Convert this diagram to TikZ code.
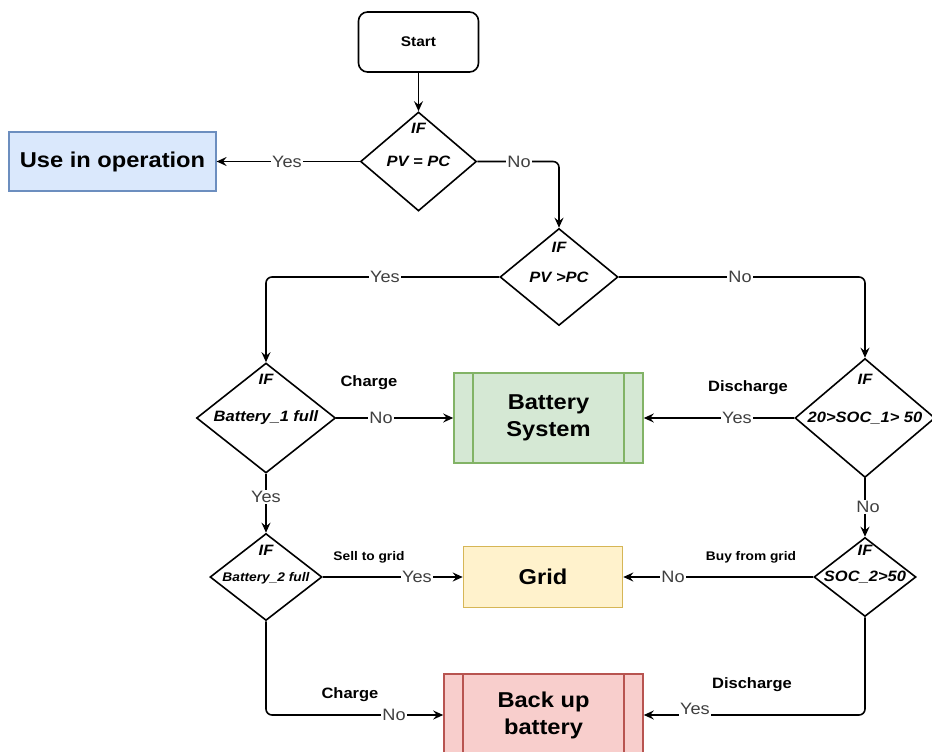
\documentclass[tikz,border=0pt]{standalone}
\usepackage{fontspec}
\setmainfont[FakeStretch=1.1]{Liberation Sans}
\usetikzlibrary{shapes.geometric,arrows.meta}
\definecolor{labelgray}{HTML}{404040}
\definecolor{bluefill}{HTML}{DAE8FC}\definecolor{blueline}{HTML}{6C8EBF}
\definecolor{greenfill}{HTML}{D5E8D4}\definecolor{greenline}{HTML}{82B366}
\definecolor{yellowfill}{HTML}{FFF2CC}\definecolor{yellowline}{HTML}{D6B656}
\definecolor{redfill}{HTML}{F8CECC}\definecolor{redline}{HTML}{B85450}
\tikzset{
  dia/.style={draw, diamond, line width=1.6pt, inner sep=0pt},
  arr/.style={-{Stealth[length=10pt,width=9pt,inset=3.5pt]}, line width=1.6pt, rounded corners=6pt},
  lbl/.style={fill=white, inner sep=1pt, text=labelgray, font=\fontsize{16.5}{18}\selectfont},
  note/.style={font=\bfseries\fontsize{15}{18}\selectfont},
  smallnote/.style={font=\bfseries\fontsize{12.5}{15}\selectfont},
  dtext/.style={font=\bfseries\itshape\fontsize{15}{17}\selectfont},
  dsmall/.style={font=\bfseries\itshape\fontsize{12.5}{15}\selectfont},
  bigtext/.style={font=\bfseries\fontsize{21.5}{27}\selectfont, align=center},
  procbox/.style={draw, line width=1.6pt, inner sep=0pt,
    path picture={
      \draw[line width=1.6pt, #1] ([xshift=19pt]path picture bounding box.north west) -- ([xshift=19pt]path picture bounding box.south west);
      \draw[line width=1.6pt, #1] ([xshift=-19pt]path picture bounding box.north east) -- ([xshift=-19pt]path picture bounding box.south east);
    }},
}
\begin{document}
\begin{tikzpicture}[x=1pt, y=-1pt]
\useasboundingbox (0,0) rectangle (932,752);
\clip (0,0) rectangle (932,752);

% Start
\node[draw, line width=1.6pt, rounded corners=9pt, minimum width=120pt, minimum height=60pt,
      font=\bfseries\fontsize{14}{16}\selectfont] (start) at (418.5,42) {Start};

% Decisions
\node[dia, minimum width=116pt, minimum height=99pt] (d1) at (418.5,161.5) {};
\node[dtext] (d1a) at (418.5,128) {IF};
\node[dtext] (d1b) at (418.5,161.5) {PV = PC};

\node[dia, minimum width=118pt, minimum height=97pt] (d2) at (559,277) {};
\node[dtext] (d2a) at (559,247) {IF};
\node[dtext] (d2b) at (559,277) {PV >PC};

\node[dia, minimum width=139pt, minimum height=110pt] (d3) at (266,418) {};
\node[dtext] (d3a) at (266,379) {IF};
\node[dtext] (d3b) at (266,418) {Battery\_1 full};

\node[dia, minimum width=140pt, minimum height=119pt] (d4) at (865,418) {};
\node[dtext] (d4a) at (865,379) {IF};
\node[dtext] (d4b) at (865,418) {20>SOC\_1> 50};

\node[dia, minimum width=112pt, minimum height=87pt] (d5) at (266,577) {};
\node[dtext] (d5a) at (266,550) {IF};
\node[dsmall] (d5b) at (266,578) {Battery\_2 full};

\node[dia, minimum width=102pt, minimum height=79pt] (d6) at (865,577) {};
\node[dtext] (d6a) at (865,550) {IF};
\node[dtext] (d6b) at (865,577) {SOC\_2>50};

% Process boxes
\node[draw=blueline, fill=bluefill, line width=1.2pt, minimum width=207pt, minimum height=59pt,
      inner sep=0pt, bigtext] (use) at (112.5,161.5) {Use in operation};
\node[procbox=greenline, draw=greenline, fill=greenfill, minimum width=189pt, minimum height=90pt,
      bigtext] (bs) at (548.5,418) {Battery\\System};
\node[draw=yellowline, fill=yellowfill, line width=1.6pt, minimum width=159pt, minimum height=61pt,
      inner sep=0pt, bigtext] (grid) at (543,577) {Grid};
\node[procbox=redline, draw=redline, fill=redfill, minimum width=199pt, minimum height=82pt,
      bigtext] (bu) at (543.5,715) {Back up\\battery};

% Connectors
\draw[arr] (start.south) -- (d1.north);
\draw[arr] (d1.west) -- (use.east);
\draw[arr] (d1.east) -| (d2.north);
\draw[arr] (d2.west) -| (d3.north);
\draw[arr] (d2.east) -| (d4.north);
\draw[arr] (d3.east) -- (bs.west);
\draw[arr] (d4.west) -- (bs.east);
\draw[arr] (d3.south) -- (d5.north);
\draw[arr] (d4.south) -- (d6.north);
\draw[arr] (d5.east) -- (grid.west);
\draw[arr] (d6.west) -- (grid.east);
\draw[arr] (d5.south) |- (bu.west);
\draw[arr] (d6.south) |- (bu.east);

% Edge labels
\node[lbl] (l1) at (287,161.5) {Yes};
\node[lbl] (l2) at (519,161.5) {No};
\node[lbl] (l3) at (385,277) {Yes};
\node[lbl] (l4) at (740,277) {No};
\node[lbl] (l5) at (381,418) {No};
\node[lbl] (l6) at (737,418) {Yes};
\node[lbl] (l7) at (266,497) {Yes};
\node[lbl] (l8) at (868,507) {No};
\node[lbl] (l9) at (417,577) {Yes};
\node[lbl] (l10) at (673,577) {No};
\node[lbl] (l11) at (394,715) {No};
\node[lbl] (l12) at (695,709) {Yes};

% Annotations
\node[note] (n1) at (369,383) {Charge};
\node[note] (n2) at (748,388) {Discharge};
\node[smallnote] (n3) at (369,557) {Sell to grid};
\node[smallnote] (n4) at (751,557) {Buy from grid};
\node[note] (n5) at (350,695) {Charge};
\node[note] (n6) at (752,685) {Discharge};
\end{tikzpicture}
\end{document}
